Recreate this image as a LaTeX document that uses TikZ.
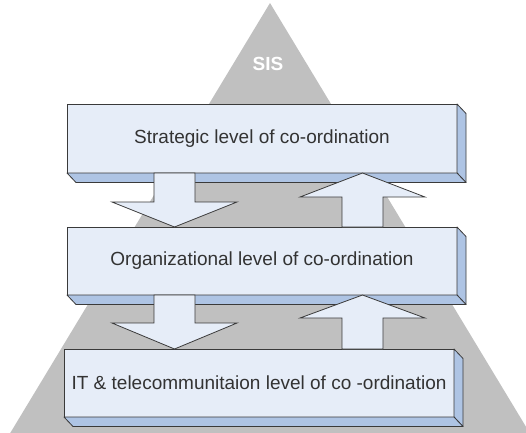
\documentclass[tikz,border=0pt]{standalone}
\usepackage{fontspec}
\setmainfont{Liberation Sans}
\usepackage{tikz}
\usetikzlibrary{calc}

\definecolor{pyramidgray}{HTML}{C0C0C0}
\definecolor{faceblue}{HTML}{E6EDF8}
\definecolor{sideblue}{HTML}{AEC4E4}
\definecolor{edgegray}{HTML}{3A3A3A}
\definecolor{textgray}{HTML}{333333}

\tikzset{
  level/.style={draw=edgegray, line width=0.8pt, fill=faceblue, minimum width=390pt,
    inner sep=0pt, outer sep=0pt, text=textgray, font=\fontsize{19}{22}\selectfont},
  side/.style={draw=edgegray, line width=0.8pt, fill=sideblue, line join=round},
  flow/.style={draw=edgegray, line width=0.8pt, fill=faceblue, line join=miter}
}

\begin{document}
\begin{tikzpicture}[x=1pt,y=-1pt]
    \clip (0,0) rectangle (526,432);
    % the pyramid behind the three levels
    \fill[pyramidgray] (270,3) -- (534,440) -- (6,440) -- cycle;
    \node[text=white, font=\fontsize{19}{22}\selectfont\bfseries] (sis) at (268,63.5) {SIS};

    % levels of co-ordination
    \node[level, minimum height=69pt] (strat) at (262,138.5) {Strategic level of co-ordination};
    \node[level, minimum height=68pt] (org) at (262,261) {Organizational level of co-ordination};
    \node[level, minimum height=68pt] (it) at (259,383) {IT \& telecommunitaion level of co -ordination};

    % 3d edges on the right and bottom of each box
    \draw[side] (strat.north east) -- ([shift={(9,9.5)}]strat.north east) -- ([shift={(9,9.5)}]strat.south east) -- (strat.south east) -- cycle;
    \draw[side] (strat.south west) -- ([shift={(9,9.5)}]strat.south west) -- ([shift={(9,9.5)}]strat.south east) -- (strat.south east) -- cycle;
    \draw[side] (org.north east) -- ([shift={(9,9.5)}]org.north east) -- ([shift={(9,9.5)}]org.south east) -- (org.south east) -- cycle;
    \draw[side] (org.south west) -- ([shift={(9,9.5)}]org.south west) -- ([shift={(9,9.5)}]org.south east) -- (org.south east) -- cycle;
    \draw[side] (it.north east) -- ([shift={(9,9.5)}]it.north east) -- ([shift={(9,9.5)}]it.south east) -- (it.south east) -- cycle;
    \draw[side] (it.south west) -- ([shift={(9,9.5)}]it.south west) -- ([shift={(9,9.5)}]it.south east) -- (it.south east) -- cycle;

    % block arrows between the levels
    \draw[flow] ($(strat.south)+(-108,0)$) -- ++(41,0) -- ++(0,29) -- ++(42,0) -- ($(org.north)+(-87.5,0)$) -- ++(-62.5,-25) -- ++(42,0) -- cycle;
    \draw[flow] ($(org.north)+(80,0)$) -- ++(0,-30) -- ++(-42,0) -- ($(strat.south)+(100.5,0)$) -- ++(62.5,24) -- ++(-42,0) -- ($(org.north)+(121,0)$) -- cycle;
    \draw[flow] ($(org.south)+(-108,0)$) -- ++(41,0) -- ++(0,28) -- ++(42,0) -- ($(it.north)+(-84.5,0)$) -- ++(-62.5,-26) -- ++(42,0) -- cycle;
    \draw[flow] ($(it.north)+(83,0)$) -- ++(0,-31) -- ++(-42,0) -- ($(org.south)+(100.5,0)$) -- ++(62.5,23) -- ++(-42,0) -- ($(it.north)+(124,0)$) -- cycle;
\end{tikzpicture}
\end{document}
